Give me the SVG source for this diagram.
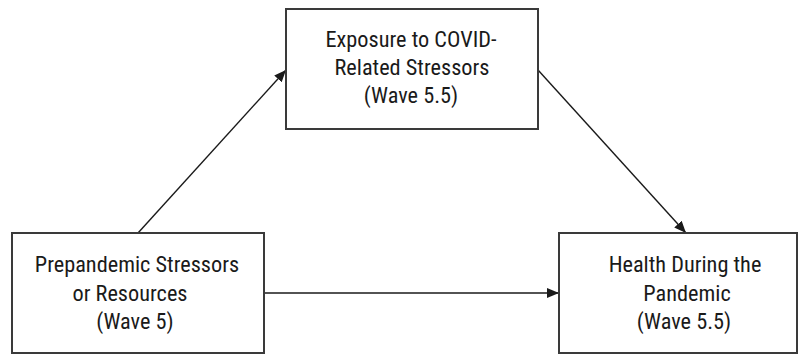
<svg xmlns="http://www.w3.org/2000/svg" width="799" height="354" viewBox="0 0 799 354">
<defs>
<marker id="ah" markerWidth="12" markerHeight="10" refX="12" refY="5" orient="auto" markerUnits="userSpaceOnUse">
<path d="M0,0 L12,5 L0,10 Z" fill="#1a1a1a"/>
</marker>
<style>
.box{fill:#fff;stroke:#3a3a3a;stroke-width:2}
.lbl{font-family:"Liberation Sans Narrow","Roboto Condensed","DejaVu Sans Condensed","Liberation Sans",sans-serif;font-size:22.3px;fill:#1a1a1a;text-anchor:middle}
.edge{stroke:#1a1a1a;stroke-width:1.4;fill:none;marker-end:url(#ah)}
</style>
</defs>
<rect width="799" height="354" fill="#fff"/>
<g id="connectors">
<line class="edge" x1="138" y1="233" x2="286" y2="70"/>
<line class="edge" x1="538" y1="70" x2="686" y2="233"/>
<line class="edge" x1="264" y1="293" x2="559" y2="293"/>
</g>
<g id="node-exposure">
<rect class="box" x="286" y="9" width="252" height="120"/>
<text class="lbl" x="411" y="47">Exposure to COVID-</text>
<text class="lbl" x="412" y="75">Related Stressors</text>
<text class="lbl" x="411" y="103">(Wave 5.5)</text>
</g>
<g id="node-prepandemic">
<rect class="box" x="12" y="233" width="252" height="120"/>
<text class="lbl" x="137" y="272">Prepandemic Stressors</text>
<text class="lbl" x="130" y="301">or Resources</text>
<text class="lbl" x="135" y="329">(Wave 5)</text>
</g>
<g id="node-health">
<rect class="box" x="559" y="233" width="238" height="120"/>
<text class="lbl" x="685" y="272">Health During the</text>
<text class="lbl" x="687" y="301">Pandemic</text>
<text class="lbl" x="684" y="329">(Wave 5.5)</text>
</g>
</svg>
